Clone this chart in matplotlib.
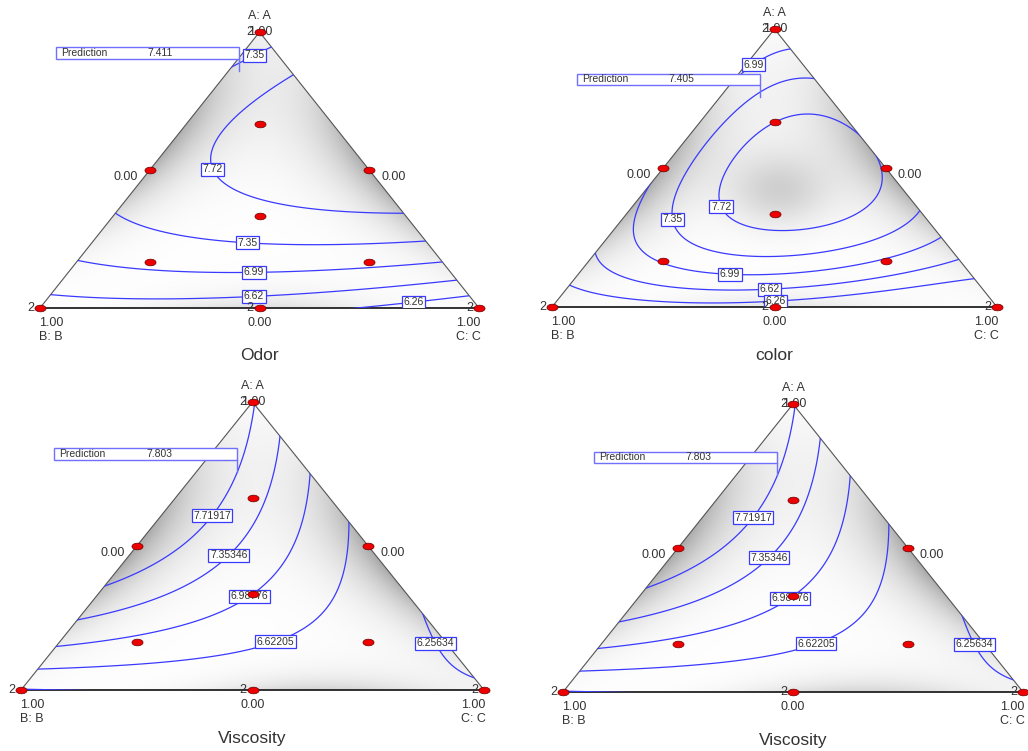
import numpy as np
import matplotlib
matplotlib.use("Agg")
import matplotlib.pyplot as plt
from matplotlib.path import Path
from matplotlib.patches import Polygon, Rectangle

plt.rcParams['font.family'] = ['Liberation Sans', 'DejaVu Sans']

# ------------------------------------------------------------------ data
titles = ["Odor", "color", "Viscosity", "Viscosity"]
odor_levels = [6.26, 6.62, 6.99, 7.35, 7.72]
color_levels = [6.26, 6.62, 6.99, 7.35, 7.72]
visc_levels = [6.25634, 6.62205, 6.98776, 7.35346, 7.71917]

# Scheffe special-cubic coefficients: A, B, C, AB, AC, BC, ABC
odor_coef = [7.1, 6.45, 5.95, 3.0, 6.1, 0.85, 0.0]
visc_coef = [7.75, 6.24, 6.28, 4.05, -2.12, 0.16, 0.0]

# color response at compositions (A, C); B = 1 - A - C
color_A = [1.0, 0.0, 0.0, 0.0,
           0.072, 0.216, 0.41, 0.5, 0.65, 0.788, 0.815, 0.842, 0.95,
           0.97, 0.932, 0.827, 0.65, 0.5, 0.349, 0.248, 0.176, 0.108,
           0.716, 0.446, 0.324, 0.252, 0.324, 0.432, 0.626, 0.45,
           0.662, 0.627, 0.432, 0.324, 0.216, 0.176, 0.18,
           0.89,
           0.266, 0.176, 0.133, 0.122, 0.18,
           0.144, 0.097, 0.072, 0.079, 0.14,
           0.054, 0.025, 0.018, 0.061]
color_C = [0.0, 0.0, 1.0, 0.5,
           0.0, 0.0, 0.005, 0.0, 0.0, 0.0, 0.0, 0.0, 0.0,
           0.03, 0.068, 0.173, 0.35, 0.5, 0.651, 0.752, 0.824, 0.892,
           0.201, 0.141, 0.217, 0.411, 0.545, 0.53, 0.349, 0.3,
           0.046, 0.05, 0.058, 0.105, 0.195, 0.35, 0.573,
           0.03,
           0.058, 0.141, 0.297, 0.527, 0.669,
           0.043, 0.12, 0.281, 0.428, 0.75,
           0.038, 0.201, 0.474, 0.639]
color_Y = [6.70, 5.90, 5.75, 6.12,
           6.26, 6.62, 6.99, 6.98, 6.97, 6.99, 7.00, 6.99, 6.80,
           6.85, 6.99, 7.35, 7.66, 7.66, 7.35, 6.99, 6.62, 6.26,
           7.72, 7.72, 7.72, 7.72, 7.72, 7.72, 7.72, 7.85,
           7.35, 7.35, 7.35, 7.35, 7.35, 7.35, 7.35,
           6.99,
           6.99, 6.99, 6.99, 6.99, 6.99,
           6.62, 6.62, 6.62, 6.62, 6.62,
           6.26, 6.26, 6.26, 6.26]

# design points (A, C) and replicate marks
design_A = [1.0, 0.0, 0.0, 0.5, 0.5, 0.0, 1/3, 2/3, 1/6, 1/6]
design_C = [0.0, 0.0, 1.0, 0.0, 0.5, 0.5, 1/3, 1/6, 1/6, 2/3]
rep_A = [1.0, 0.0, 0.0, 0.0]
rep_C = [0.0, 0.0, 1.0, 0.5]
rep_label = ["2", "2", "2", "2"]

pred_values = [7.411, 7.405, 7.803, 7.803]
pred_A = [0.859, 0.755, 0.757, 0.753]
pred_C = [0.0235, 0.0895, 0.0885, 0.0885]

# ------------------------------------------------------------------ layout
W, H = 1028, 751
# triangle pixel geometry: xB, xC, y_bottom, y_apex
geoms = [(40, 479, 308, 32), (552, 997, 307, 29), (21, 484, 690, 402), (563, 1023, 692, 404)]
label_pos = [
    [(0.487, 0.924), (0.399, 0.507), (0.474, 0.254), (0.487, 0.145), (0.487, 0.054), (0.850, 0.043)],
    [(0.449, 0.881), (0.373, 0.356), (0.274, 0.317), (0.400, 0.137), (0.488, 0.086), (0.501, 0.040)],
    [(0.421, 0.594), (0.454, 0.458), (0.497, 0.319), (0.551, 0.163), (0.900, 0.167)],
    [(0.422, 0.594), (0.452, 0.458), (0.496, 0.319), (0.550, 0.167), (0.900, 0.170)],
]
shade_par = [
    dict(L=(0.32, 0.60), R=(0.32, 0.50), B=(0.13, 0.50), blob=0.0),
    dict(L=(0.32, 0.45), R=(0.32, 0.50), B=(0.10, 0.50), blob=0.17),
    dict(L=(0.34, 0.50), R=(0.34, 0.45), B=(0.17, 0.65), blob=0.0),
    dict(L=(0.34, 0.50), R=(0.34, 0.45), B=(0.17, 0.65), blob=0.0),
]

LINE = '#3a3aff'
TXT = '#333333'


def scheffe(coef, a, b, c):
    return (coef[0]*a + coef[1]*b + coef[2]*c + coef[3]*a*b + coef[4]*a*c
            + coef[5]*b*c + coef[6]*a*b*c)


def quartic_basis(a, b, c):
    return np.stack([a, b, c, a*b, a*c, b*c,
                     a*b*(a-b), a*c*(a-c), b*c*(b-c),
                     a*b*(a-b)**2, a*c*(a-c)**2, b*c*(b-c)**2,
                     a*a*b*c, a*b*b*c, a*b*c*c], axis=-1)


cA = np.array(color_A); cC = np.array(color_C); cB = 1 - cA - cC
X = quartic_basis(cA, cB, cC)
lam = 1e-4
color_beta = np.linalg.solve(X.T @ X + lam*np.eye(X.shape[1]), X.T @ np.array(color_Y))


def color_model(a, b, c):
    return quartic_basis(a, b, c) @ color_beta


models = [lambda a, b, c: scheffe(odor_coef, a, b, c),
          color_model,
          lambda a, b, c: scheffe(visc_coef, a, b, c),
          lambda a, b, c: scheffe(visc_coef, a, b, c)]
levels_all = [odor_levels, color_levels, visc_levels, visc_levels]
fmts = ['%.2f', '%.2f', '%.5f', '%.5f']

theta = np.linspace(0, 2*np.pi, 40)
ell = Path(np.c_[np.cos(theta), 0.6*np.sin(theta)])

fig = plt.figure(figsize=(W/100, H/100), dpi=100)

n = 500
gx, gy = np.meshgrid(np.linspace(-0.02, 1.02, n), np.linspace(-0.02, 1.02, n))
ga = gy
gc = gx - gy/2
gb = 1 - ga - gc

for k in range(4):
    xB, xC, yb, ya = geoms[k]
    sx, sy = xC - xB, yb - ya
    ax = fig.add_axes([xB/W, 1 - yb/H, sx/W, sy/H])
    ax.set_xlim(0, 1); ax.set_ylim(0, 1)
    ax.axis('off')

    tri = Polygon([(0, 0), (1, 0), (0.5, 1)], closed=True, fc='none', ec='none',
                  transform=ax.transData)
    ax.add_patch(tri)

    # shading
    p = shade_par[k]
    s = 0.08
    wL = np.exp(-((ga - p['L'][1])/0.28)**2)
    wR = np.exp(-((ga - p['R'][1])/0.28)**2)
    wB = np.exp(-((gc - p['B'][1])/0.25)**2)
    dark = (p['L'][0]*wL*np.exp(-np.clip(gc, 0, None)/s)
            + p['R'][0]*wR*np.exp(-np.clip(gb, 0, None)/s)
            + p['B'][0]*wB*np.exp(-np.clip(ga, 0, None)/0.05))
    if p['blob'] > 0:
        dark += p['blob']*np.exp(-((ga-0.42)**2 + (gb-0.28)**2 + (gc-0.30)**2)/0.025)
    g = np.clip(1 - dark, 0.62, 1)
    img = np.dstack([g, g, g])
    im = ax.imshow(img, extent=(-0.02, 1.02, -0.02, 1.02), origin='lower',
                   interpolation='bilinear', zorder=0, aspect='auto')
    im.set_clip_path(tri)

    # triangle outline
    ax.plot([0, 0.5, 1], [0, 1, 0], color='#555555', lw=0.8, zorder=2, clip_on=False)
    ax.plot([0, 1], [0, 0], color='#222222', lw=1.3, zorder=2, clip_on=False)

    # contours
    Z = models[k](ga, gb, gc)
    cs = ax.contour(gx, gy, Z, levels=levels_all[k], colors=LINE, linewidths=0.9, zorder=3)
    cs.set_clip_path(tri)
    ax.clabel(cs, levels_all[k], manual=label_pos[k], inline=False,
              fmt=fmts[k], fontsize=7.5, colors=TXT)
    for t in cs.labelTexts:
        t.set_rotation(0)
        t.set_zorder(4)
        t.set_bbox(dict(boxstyle='square,pad=0.15', fc='white', ec=LINE, lw=0.9))

    # design points
    dA = np.array(design_A); dC = np.array(design_C)
    ax.plot(dC + dA/2, dA, ls='none', marker=ell, ms=8, mfc='#ee0000', mec='#660000',
            mew=0.5, zorder=6, clip_on=False)
    for ra, rc, rl in zip(rep_A, rep_C, rep_label):
        ax.annotate(rl, (rc + ra/2, ra), xytext=(-6, 0), textcoords='offset pixels',
                    ha='right', va='center', fontsize=9, color=TXT, zorder=5)

    def lab(txt, xy, off, ha='center', va='center', fs=9):
        ax.annotate(txt, xy, xytext=off, textcoords='offset pixels', ha=ha, va=va,
                    fontsize=fs, color=TXT, annotation_clip=False)

    lab("A: A", (0.5, 1), (0, 16))
    lab("1.00", (0.5, 1), (1, 0))
    lab("0.00", (0.25, 0.5), (-12, -7), ha='right')
    lab("0.00", (0.75, 0.5), (12, -7), ha='left')
    lab("1.00", (0, 0), (11, -15))
    lab("B: B", (0, 0), (11, -29))
    lab("0.00", (0.5, 0), (0, -15))
    lab("1.00", (1, 0), (-11, -15))
    lab("C: C", (1, 0), (-11, -29))
    lab(titles[k], (0.5, 0), (0, -48), fs=12.5)

    # prediction flag
    fx = pred_C[k] + pred_A[k]/2
    fy = pred_A[k]
    bw, bh, gap = 183/sx, 11.5/sy, 12/sy
    ax.add_patch(Rectangle((fx - bw, fy + gap), bw, bh, fc='white', ec='#7070ff',
                           lw=1.0, zorder=5, clip_on=False))
    ax.plot([fx, fx], [fy, fy + gap], color='#7070ff', lw=1.0, zorder=5, clip_on=False)
    ax.text(fx - bw + 5/sx, fy + gap + bh/2, "Prediction", fontsize=7.5, color=TXT,
            va='center', ha='left', zorder=6, clip_on=False)
    ax.text(fx - bw + 92/sx, fy + gap + bh/2, f"{pred_values[k]:.3f}", fontsize=7.5,
            color=TXT, va='center', ha='left', zorder=6, clip_on=False)

fig.savefig("out.png", dpi=100)
